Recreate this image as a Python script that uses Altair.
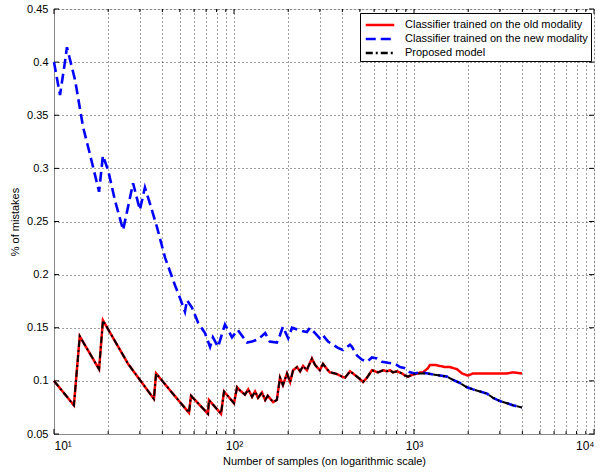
import altair as alt
import pandas as pd

# ---- data ----
red_n = [10, 12.9, 13.9, 17.8, 18.7, 25.8, 35.9, 36.9, 45.2, 56.2, 57.7, 71.7, 72.6, 84.7, 88, 100, 104,
         108, 115, 120, 126, 131, 136, 143, 149, 154, 165, 173, 180, 187, 197, 205, 213, 224, 233, 242,
         254, 258, 271, 282, 300, 312, 329, 341, 364, 378, 398, 414, 441, 458, 482, 514, 521, 548, 584,
         607, 631, 673, 708, 736, 764, 805, 858, 891, 926, 987, 1052,
         1080, 1122, 1196, 1227, 1309, 1394, 1486, 1585, 1733, 1849, 1995, 2128, 2328, 2546, 2748,
         3006, 3289, 3548, 3981]
red_v = [0.100, 0.077, 0.142, 0.111, 0.157, 0.116, 0.083, 0.107, 0.089, 0.070, 0.086, 0.069, 0.082,
         0.069, 0.090, 0.079, 0.094, 0.091, 0.087, 0.092, 0.085, 0.090, 0.084, 0.089, 0.082, 0.086,
         0.080, 0.082, 0.103, 0.096, 0.107, 0.099, 0.110, 0.113, 0.109, 0.114, 0.110, 0.113, 0.121,
         0.115, 0.110, 0.116, 0.111, 0.108, 0.107, 0.106, 0.104, 0.103, 0.109, 0.107, 0.104, 0.100,
         0.099, 0.103, 0.110, 0.109, 0.108, 0.110, 0.109, 0.110, 0.108, 0.109, 0.107, 0.105, 0.104,
         0.106, 0.107,
         0.108, 0.108, 0.112, 0.115, 0.115, 0.114, 0.113, 0.113, 0.111, 0.107, 0.105, 0.107, 0.107,
         0.107, 0.107, 0.107, 0.107, 0.108, 0.107]

blue_head_n = [10, 10.8, 11.5, 11.8, 13.1, 14.5, 15.8, 17.8, 18.7, 20, 21.8, 24.2, 25.8, 27.5, 30, 32,
               34.1, 37.3, 41.4, 47, 50.1, 53.4, 54.8, 58.4, 63.1, 69, 73.6, 76.4, 81.5, 89.1, 97.5,
               105, 118, 126, 136, 149, 158, 173, 180, 187, 200, 210, 227, 239, 254, 264, 282, 300,
               312, 333, 355, 378, 403, 441, 452, 482, 514, 548, 584, 623, 664, 717, 784, 836, 891,
               950, 1013, 1080]
blue_head_v = [0.400, 0.369, 0.400, 0.414, 0.383, 0.339, 0.314, 0.278, 0.312, 0.298, 0.270, 0.242,
               0.264, 0.286, 0.261, 0.282, 0.267, 0.245, 0.216, 0.190, 0.178, 0.165, 0.176, 0.169,
               0.155, 0.145, 0.132, 0.141, 0.132, 0.153, 0.141, 0.148, 0.136, 0.137, 0.139, 0.145,
               0.137, 0.136, 0.143, 0.151, 0.140, 0.150, 0.148, 0.147, 0.146, 0.150, 0.145, 0.140,
               0.143, 0.137, 0.134, 0.131, 0.129, 0.134, 0.132, 0.124, 0.120, 0.118, 0.122, 0.121,
               0.118, 0.117, 0.116, 0.113, 0.112, 0.108, 0.107, 0.108]

# common tail of the new-modality classifier and the proposed model
tail_n = [1196, 1276, 1394, 1525, 1647, 1801, 1968, 2128, 2328, 2546, 2748, 3006, 3289, 3548, 3981]
tail_v = [0.107, 0.106, 0.105, 0.104, 0.101, 0.098, 0.094, 0.092, 0.090, 0.088, 0.084, 0.081,
          0.079, 0.077, 0.075]

# proposed model: follows the old-modality classifier up to ~1000 samples
black_mid_n = [1039, 1107]
black_mid_v = [0.107, 0.107]
split = red_n.index(987) + 1

labels = ["Classifier trained on the old modality",
          "Classifier trained on the new modality",
          "Proposed model"]
colors = ["#ff0000", "#0000ff", "#000000"]
dashes = [[1, 0], [10, 5], [7, 3, 2, 3]]

x_major = [10, 100, 1000, 10000]
x_minor = [m * d for d in (10, 100, 1000) for m in range(2, 10)]
y_ticks = [0.05, 0.10, 0.15, 0.20, 0.25, 0.30, 0.35, 0.40, 0.45]

# ---- tables ----
red_df = pd.DataFrame({"n": red_n, "v": red_v, "series": labels[0]})
blue_df = pd.DataFrame({"n": blue_head_n + tail_n, "v": blue_head_v + tail_v, "series": labels[1]})
black_df = pd.DataFrame({"n": red_n[:split] + black_mid_n + tail_n,
                         "v": red_v[:split] + black_mid_v + tail_v, "series": labels[2]})

W, H = 540, 425
FONT = "Liberation Sans"
GRID = dict(grid=True, gridDash=[1, 3], gridColor="#000000", gridOpacity=0.75, gridWidth=1)

xenc = alt.X("n:Q",
             scale=alt.Scale(type="log", domain=[10, 10000], nice=False),
             axis=alt.Axis(values=x_major + x_minor, ticks=False, **GRID,
                           labelExpr="datum.value==10?'10¹':datum.value==100?'10²':datum.value==1000?'10³':datum.value==10000?'10⁴':''",
                           labelFontSize=12, labelPadding=6,
                           title="Number of samples (on logarithmic scale)", titleFontSize=11,
                           titleFontWeight="normal", titlePadding=4))
yenc = alt.Y("v:Q",
             scale=alt.Scale(domain=[0.05, 0.45], nice=False, zero=False),
             axis=alt.Axis(values=y_ticks, ticks=False, format=".2~f", **GRID,
                           labelFontSize=11, labelPadding=6,
                           title="% of mistakes", titleFontSize=11, titleFontWeight="normal",
                           titlePadding=6))

color = alt.Color("series:N", scale=alt.Scale(domain=labels, range=colors),
                  legend=alt.Legend(title=None, orient="none", legendX=306, legendY=4,
                                    symbolType="M-1.9,0H1.9", symbolSize=225, symbolStrokeWidth=2.5,
                                    symbolOffset=8, labelOffset=16,
                                    labelFontSize=11, labelLimit=400, labelFont=FONT,
                                    strokeColor="black", fillColor="white", padding=3,
                                    rowPadding=0, cornerRadius=0))
dash = alt.StrokeDash("series:N", scale=alt.Scale(domain=labels, range=dashes), legend=None)


def line(df, w):
    return alt.Chart(df).mark_line(strokeWidth=w, strokeCap="butt").encode(
        x=xenc, y=yenc, color=color, strokeDash=dash, order=alt.Order("n:Q"))


red = line(red_df, 2.5)
blue = line(blue_df, 2.6)
black = line(black_df, 2.0)

xmaj_df = pd.DataFrame({"n": x_major})
xmin_df = pd.DataFrame({"n": x_minor})
y_df = pd.DataFrame({"v": y_ticks})

tick_layers = [
    alt.Chart(xmaj_df).mark_rule(color="black").encode(x=xenc, y=alt.value(H), y2=alt.value(H - 5)),
    alt.Chart(xmaj_df).mark_rule(color="black").encode(x=xenc, y=alt.value(0), y2=alt.value(5)),
    alt.Chart(xmin_df).mark_rule(color="black").encode(x=xenc, y=alt.value(H), y2=alt.value(H - 3)),
    alt.Chart(xmin_df).mark_rule(color="black").encode(x=xenc, y=alt.value(0), y2=alt.value(3)),
    alt.Chart(y_df).mark_rule(color="black").encode(y=yenc, x=alt.value(0), x2=alt.value(5)),
    alt.Chart(y_df).mark_rule(color="black").encode(y=yenc, x=alt.value(W), x2=alt.value(W - 5)),
]

chart = alt.layer(*tick_layers, red, blue, black).properties(
    width=W, height=H,
    autosize=alt.AutoSizeParams(type="none"),
    padding={"left": 54, "top": 9, "right": 8, "bottom": 42},
).configure_view(
    stroke="black", strokeWidth=1
).configure_axis(
    domainColor="black", labelColor="black", titleColor="black",
    labelFont=FONT, titleFont=FONT,
).configure(background="white")

chart.save("out.html", embed_options={"renderer": "svg", "actions": False})
